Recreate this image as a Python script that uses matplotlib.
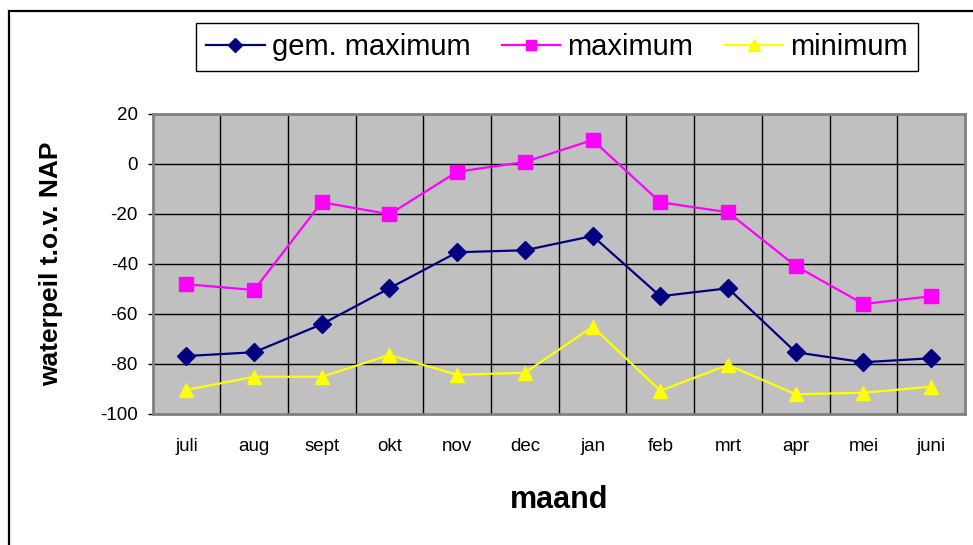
import matplotlib
matplotlib.use("Agg")
import matplotlib.pyplot as plt
from matplotlib.lines import Line2D
from matplotlib.patches import Rectangle

plt.rcParams['font.family'] = ['Liberation Sans', 'DejaVu Sans']

months = ["juli", "aug", "sept", "okt", "nov", "dec", "jan", "feb", "mrt", "apr", "mei", "juni"]
gem_maximum = [-76.8, -75.3, -64.1, -49.7, -35.3, -34.5, -28.8, -52.9, -49.7, -75.3, -79.3, -77.7]
maximum = [-48.1, -50.4, -15.3, -20.1, -3.1, 0.8, 9.6, -15.3, -19.3, -40.8, -56.0, -52.9]
minimum = [-90.4, -85.1, -85.1, -76.4, -84.3, -83.5, -65.1, -90.7, -80.4, -92.1, -91.5, -89.1]
yticks = [-100, -80, -60, -40, -20, 0, 20]
series_names = ["gem. maximum", "maximum", "minimum"]

W, H = 973, 545
fig = plt.figure(figsize=(W / 100, H / 100), dpi=100)
fig.patch.set_facecolor("white")

# outer chart border (left & top visible)
fig.add_artist(Rectangle((9 / W, -0.05), 1.2, (H - 11) / H + 0.05, transform=fig.transFigure,
                         fill=False, edgecolor="black", linewidth=1.6))

ax = fig.add_axes([152.5 / W, (H - 414) / H, (965 - 152.5) / W, 300 / H])
ax.set_facecolor("#C0C0C0")
x = list(range(len(months)))

ax.plot(x, gem_maximum, color="#000080", marker="D", markersize=9, linewidth=1.6, zorder=4)
ax.plot(x, maximum, color="#FF00FF", marker="s", markersize=9.5, linewidth=1.6, zorder=4)
ax.plot(x, minimum, color="#FFFF00", marker="^", markersize=10.5, linewidth=1.6, zorder=4)

ax.set_xlim(-0.5, len(months) - 0.5)
ax.set_ylim(-100, 20)
ax.set_yticks(yticks)
ax.set_yticklabels([str(v) for v in yticks], fontsize=13.5)
ax.set_xticks(x)
ax.set_xticklabels(months, fontsize=13.5)
ax.tick_params(axis="x", length=0, pad=17)
ax.tick_params(axis="y", length=3.5, width=1, pad=7, color="black")

# grid
for yv in yticks[1:-1]:
    ax.axhline(yv, color="black", linewidth=1.0, zorder=1)
for i in range(1, len(months)):
    ax.axvline(i - 0.5, color="black", linewidth=1.0, zorder=1)

for s in ax.spines.values():
    s.set_color("#808080")
    s.set_linewidth(2)

ax.set_xlabel("maand", fontsize=22, fontweight="bold", labelpad=22)
ax.set_ylabel("waterpeil t.o.v. NAP", fontsize=19, fontweight="bold", labelpad=27)

handles = [
    Line2D([], [], color="#000080", marker="D", markersize=7, linewidth=1.6),
    Line2D([], [], color="#FF00FF", marker="s", markersize=7, linewidth=1.6),
    Line2D([], [], color="#FFFF00", marker="^", markersize=8, linewidth=1.6),
]
leg = fig.legend(handles, series_names, ncol=3, loc="center",
                 bbox_to_anchor=(196 / W, (H - 72) / H, (918 - 196) / W, 50 / H),
                 bbox_transform=fig.transFigure, mode="expand",
                 fontsize=21, frameon=True, fancybox=False, framealpha=1,
                 edgecolor="black", handlelength=2.0, handletextpad=0.25,
                 columnspacing=0.8, borderaxespad=0, borderpad=0.35)
leg.get_frame().set_linewidth(1.0)

fig.savefig("out.png", dpi=100)
